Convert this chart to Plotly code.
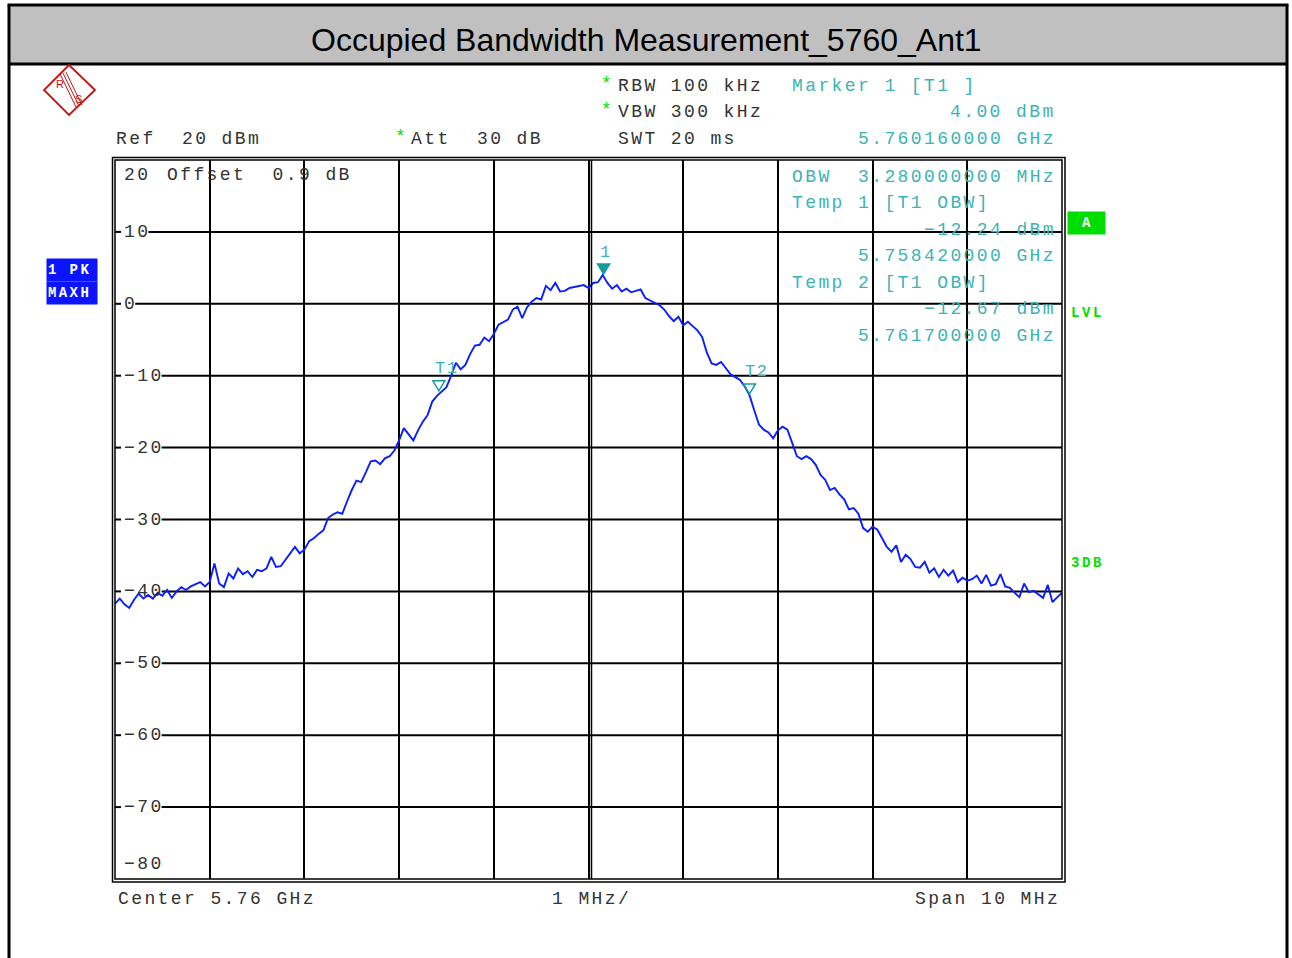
import plotly.graph_objects as go

# ---------------- data ----------------
f_start_ghz = 5.755
f_step_ghz = 0.00005          # 50 kHz sweep step
level_dbm = [
    -41.7, -41.0, -41.8, -42.3, -41.2, -40.3, -41.0, -40.5, -41.0, -40.2,
    -40.6, -39.8, -40.9, -40.0, -39.4, -39.8, -39.3, -39.0, -38.7, -39.3,
    -38.7, -36.1, -38.9, -39.4, -37.5, -38.2, -36.8, -37.6, -37.2, -38.0,
    -37.0, -37.2, -36.8, -35.2, -36.6, -36.5, -35.6, -34.7, -33.8, -34.7,
    -34.2, -33.0, -32.6, -32.0, -31.5, -29.8, -29.3, -29.0, -29.2, -27.5,
    -25.9, -24.6, -24.8, -23.4, -21.9, -21.8, -22.3, -21.5, -21.2, -20.4,
    -19.0, -17.3, -18.2, -19.0, -17.6, -16.4, -15.5, -13.6, -12.8, -12.2,
    -11.6, -10.0, -8.2, -9.1, -8.5, -7.0, -5.8, -5.7, -4.7, -5.2,
    -4.2, -2.9, -2.5, -2.2, -0.8, -0.4, -2.0, -0.5, 0.3, 0.8,
    0.6, 2.5, 1.9, 2.9, 1.7, 1.8, 2.2, 2.3, 2.5, 2.6,
    2.2, 2.9, 3.0, 4.0, 2.9, 2.1, 2.6, 1.7, 2.1, 1.6,
    1.8, 2.0, 0.8, 0.5, 0.2, -0.2, -0.8, -1.7, -2.4, -1.8,
    -3.0, -2.5, -3.1, -3.7, -4.6, -6.8, -8.3, -8.5, -8.1, -9.0,
    -9.8, -10.2, -10.6, -11.5, -12.7, -14.8, -16.8, -17.5, -17.9, -18.7,
    -17.6, -17.1, -17.5, -19.3, -21.2, -21.6, -21.2, -21.6, -22.4, -23.8,
    -24.5, -25.9, -25.6, -26.5, -27.2, -28.6, -28.4, -29.2, -31.2, -31.7,
    -31.0, -31.4, -32.6, -33.8, -34.5, -33.6, -35.9, -34.9, -35.5, -36.6,
    -36.7, -35.9, -37.4, -36.8, -38.0, -37.0, -37.8, -37.1, -38.7, -38.1,
    -38.5, -38.3, -37.8, -38.9, -37.7, -39.2, -39.0, -37.6, -39.3, -39.5,
    -40.2, -40.8, -38.9, -40.1, -39.9, -40.4, -40.9, -39.1, -41.5, -40.8,
    -40.2,
]
freq_ghz = [f_start_ghz + i * f_step_ghz for i in range(len(level_dbm))]

x_range = [5.755, 5.765]
y_range = [-80, 20]
y_tick_vals = [20, 10, 0, -10, -20, -30, -40, -50, -60, -70, -80]

marker_freq = [5.76016, 5.75842, 5.76170]
marker_level = [4.00, -12.24, -12.67]
marker_names = ["1", "T1", "T2"]
marker_filled = [True, False, False]

title_text = "Occupied Bandwidth Measurement_5760_Ant1"
info_lines = ["OBW  3.280000000 MHz", "Temp 1 [T1 OBW]", "\u221212.24 dBm", "5.758420000 GHz",
              "Temp 2 [T1 OBW]", "\u221212.67 dBm", "5.761700000 GHz"]

# ---------------- layout helpers ----------------
W, H = 1292, 958
L, R, T, B = 115, 1062, 160, 879
MONO = "Liberation Mono, DejaVu Sans Mono, monospace"
SANS = "Liberation Sans, Arial, sans-serif"
DARK = "#333333"
TEAL = "#3db3b3"
TEAL_D = "#129c9c"
GREEN = "#00e000"
FS = 18          # mono font size
LS = 2.4         # letter spacing -> 13.2 px pitch
PITCH = 0.6 * FS + LS


def px(x):
    return (x - L) / (R - L)


def py(y):
    return (B - y) / (B - T)


annotations = []


def ann(x, y, text, color=DARK, xanchor="left", size=FS, family=MONO, bold=False,
        spacing=LS, yanchor="middle", xref="paper", yref="paper", **kw):
    t = text.replace(" ", "\u00a0")
    if bold:
        t = "<b>" + t + "</b>"
    if spacing:
        t = '<span style="letter-spacing:%.1fpx">%s</span>' % (spacing, t)
    d = dict(x=x, y=y, xref=xref, yref=yref, text=t, showarrow=False,
             xanchor=xanchor, yanchor=yanchor,
             font=dict(family=family, size=size, color=color))
    d.update(kw)
    annotations.append(d)


def ylabel(v):
    return str(v).replace("-", "\u2212")


fig = go.Figure()
fig.add_trace(go.Scatter(x=freq_ghz, y=level_dbm, mode="lines",
                         line=dict(color="#0a1eff", width=1.9),
                         hoverinfo="skip", showlegend=False))

shapes = []
# title bar and outer frame
shapes.append(dict(type="rect", xref="paper", yref="paper", x0=px(9), x1=px(1287),
                   y0=py(64), y1=py(5), fillcolor="#c0c0c0", line=dict(width=0), layer="below"))
for (x0, y0, x1, y1) in [(7.5, 5, 1288.5, 5), (9, 5, 9, 958), (1287, 5, 1287, 958), (8, 64, 1288, 64)]:
    shapes.append(dict(type="line", xref="paper", yref="paper", x0=px(x0), x1=px(x1),
                       y0=py(y0), y1=py(y1), line=dict(color="black", width=3)))

# horizontal grid lines, interrupted by their labels
for v in y_tick_vals[1:-1]:
    lab_end = 121 + len(ylabel(v)) * PITCH + 1
    shapes.append(dict(type="line", xref="paper", yref="y", x0=0, x1=px(121), y0=v, y1=v,
                       line=dict(color="black", width=2), layer="below"))
    shapes.append(dict(type="line", xref="paper", yref="y", x0=px(lab_end), x1=1, y0=v, y1=v,
                       line=dict(color="black", width=2), layer="below"))

# double frame of the plot area
shapes.append(dict(type="rect", xref="paper", yref="paper", x0=0, x1=1, y0=0, y1=1,
                   line=dict(color="black", width=1.5)))
shapes.append(dict(type="rect", xref="paper", yref="paper", x0=px(112.5), x1=px(1065),
                   y0=py(882), y1=py(157.5), line=dict(color="black", width=1.5)))
# double centre line
shapes.append(dict(type="line", xref="x", yref="paper", xsizemode="pixel",
                   xanchor=(x_range[0] + x_range[1]) / 2, x0=3, x1=3, y0=0, y1=1,
                   line=dict(color="black", width=1.5)))

# markers (triangles above the trace points)
for f, lv, name, filled in zip(marker_freq, marker_level, marker_names, marker_filled):
    shapes.append(dict(type="path", xref="x", yref="y", xsizemode="pixel", ysizemode="pixel",
                       xanchor=f, yanchor=lv, path="M -6,11 L 6,11 L 0,1 Z",
                       fillcolor=TEAL_D if filled else "rgba(0,0,0,0)",
                       line=dict(color=TEAL_D, width=1.5)))
    ann(f, lv, name, color=TEAL, xref="x", yref="y", yanchor="middle",
        yshift=23, xshift=-6, spacing=1.5, size=17)

# R&S logo
shapes.append(dict(type="path", xref="paper", yref="paper",
                   path="M %f,%f L %f,%f L %f,%f L %f,%f Z" % (
                       px(69), py(65), px(95), py(90), px(69), py(115), px(44), py(90)),
                   line=dict(color="#cc1010", width=1.8)))
for dx in (0, 3, 6):
    shapes.append(dict(type="line", xref="paper", yref="paper",
                       x0=px(60 + dx), y0=py(74 - dx * 0.3), x1=px(76 + dx), y1=py(107 - dx * 0.3),
                       line=dict(color="#cc1010", width=1)))
ann(px(60), py(84), "R", color="#cc1010", size=11, family=SANS, spacing=0, xanchor="center")
ann(px(78), py(99), "S", color="#cc1010", size=11, family=SANS, spacing=0, xanchor="center")

# title
ann(px(646), py(40), title_text, color="black", size=32, family=SANS, spacing=0, xanchor="center")

# header text
ann(px(606), py(84), "*", color=GREEN, spacing=0, xanchor="center")
ann(px(616), py(86), "RBW 100 kHz")
ann(px(606), py(110), "*", color=GREEN, spacing=0, xanchor="center")
ann(px(616), py(112), "VBW 300 kHz")
ann(px(114), py(139), "Ref  20 dBm")
ann(px(400), py(137), "*", color=GREEN, spacing=0, xanchor="center")
ann(px(409), py(139), "Att  30 dB")
ann(px(616), py(139), "SWT 20 ms")
ann(px(790), py(86), "Marker 1 [T1 ]", color=TEAL)
ann(px(1058), py(112), "%.2f dBm" % marker_level[0], color=TEAL, xanchor="right")
ann(px(1058), py(139), "%.9f GHz" % marker_freq[0], color=TEAL, xanchor="right")

# info block inside plot
info_y = [177, 203, 230, 256, 283, 309, 336]
for s, yy in zip(info_lines, info_y):
    if s.startswith("OBW") or s.startswith("Temp"):
        ann(px(790), py(yy), s, color=TEAL)
    else:
        ann(px(1058), py(yy), s, color=TEAL, xanchor="right")

# y labels
for v in y_tick_vals:
    if v == y_range[1]:
        ann(px(122), v, ylabel(v), xref="paper", yref="y", yshift=-15)
    elif v == y_range[0]:
        ann(px(122), v, ylabel(v), xref="paper", yref="y", yshift=15)
    else:
        ann(px(121.5), v, ylabel(v), xref="paper", yref="y")
ann(px(165), py(175), "Offset  0.9 dB")

# bottom labels
ann(px(116), py(899), "Center 5.76 GHz")
ann(px(591), py(899), "1 MHz/", xanchor="center")
ann(px(1062), py(899), "Span 10 MHz", xanchor="right")

# left trace-status boxes
ann(px(72), py(270), "1 PK", color="white", size=14, bold=True, spacing=2.4, xanchor="center",
    bgcolor="#0a14ff", width=48, height=20, align="left")
ann(px(72), py(293), "MAXH", color="white", size=14, bold=True, spacing=2.4, xanchor="center",
    bgcolor="#0a14ff", width=48, height=20, align="left")

# right side indicators
ann(px(1086.5), py(223), "A", color="white", size=14, bold=True, spacing=0, xanchor="center",
    bgcolor="#00dd00", width=35, height=20)
ann(px(1069), py(313), "LVL", color=GREEN, size=14, bold=True, spacing=2.6)
ann(px(1069), py(563), "3DB", color=GREEN, size=14, bold=True, spacing=2.6)

fig.update_layout(
    width=W, height=H,
    margin=dict(l=L, r=W - R, t=T, b=H - B, pad=0),
    paper_bgcolor="white", plot_bgcolor="white",
    showlegend=False,
    xaxis=dict(range=x_range, dtick=0.001, tick0=5.755, showticklabels=False, ticks="",
               showgrid=True, gridcolor="black", gridwidth=2, zeroline=False, showline=False,
               fixedrange=True),
    yaxis=dict(range=y_range, dtick=10, tick0=0, showticklabels=False, ticks="",
               showgrid=False, zeroline=False, showline=False, fixedrange=True),
    shapes=shapes,
    annotations=annotations,
)

fig.write_html("out.html", config={"displayModeBar": False},
               post_script="document.body.style.margin='0px';")
